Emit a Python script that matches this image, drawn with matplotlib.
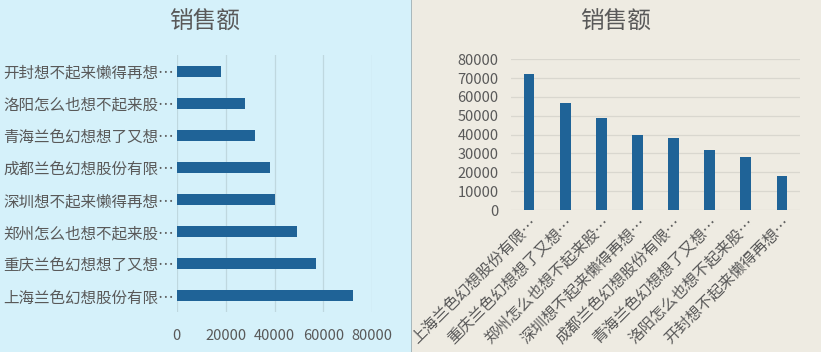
import matplotlib.pyplot as plt
import matplotlib.transforms as mtransforms
from matplotlib.patches import Rectangle

plt.rcParams['font.family'] = ['Noto Sans CJK SC', 'DejaVu Sans']

# 数据：从下到上（左图）/ 从左到右（右图）
labels = ['上海兰色幻想股份有限…', '重庆兰色幻想想了又想…', '郑州怎么也想不起来股…',
          '深圳想不起来懒得再想…', '成都兰色幻想股份有限…', '青海兰色幻想想了又想…',
          '洛阳怎么也想不起来股…', '开封想不起来懒得再想…']
sales = [72000, 57000, 49000, 40000, 38000, 32000, 28000, 18000]
x_ticks = [0, 20000, 40000, 60000, 80000]
y_ticks = list(range(0, 80001, 10000))

BAR = '#1f6397'
TXT = '#595959'
W, H = 821, 352

fig = plt.figure(figsize=(W / 100, H / 100), dpi=100)

# 背景
fig.patches.append(Rectangle((0, 0), 411 / W, 1, transform=fig.transFigure,
                             facecolor='#d5f1fa', edgecolor='none', zorder=-2))
fig.patches.append(Rectangle((412 / W, 0), 1 - 412 / W, 1, transform=fig.transFigure,
                             facecolor='#eeebe2', edgecolor='none', zorder=-2))
fig.patches.append(Rectangle((410.5 / W, 0), 1.5 / W, 1, transform=fig.transFigure,
                             facecolor='#a9b8bc', edgecolor='none', zorder=-1))

# ── 左：条形图 ──
ax1 = fig.add_axes([176.7 / W, 40 / H, 195.6 / W, 257 / H])
ax1.set_facecolor('none')
ypos = range(len(labels))
ax1.barh(ypos, sales, height=0.34, color=BAR, zorder=3)
ax1.set_xlim(0, 80000)
ax1.set_ylim(-0.5, len(labels) - 0.5)
ax1.set_yticks(list(ypos))
ax1.set_yticklabels(labels, fontsize=11.2, color=TXT)
ax1.set_xticks(x_ticks)
ax1.set_xticklabels([str(v) for v in x_ticks], fontsize=10.5, color=TXT)
ax1.tick_params(axis='y', length=0, pad=2)
ax1.tick_params(axis='x', length=0, pad=12)
ax1.grid(axis='x', color='#bfd8df', lw=0.9, zorder=0)
for s in ax1.spines.values():
    s.set_visible(False)
fig.text(205 / W, 1 - 22 / H, '销售额', ha='center', va='center',
         fontsize=17, color=TXT)

# ── 右：柱形图 ──
ax2 = fig.add_axes([511 / W, (H - 210) / H, 289 / W, 150.7 / H])
ax2.set_facecolor('none')
xpos = range(len(labels))
ax2.bar(xpos, sales, width=0.3, color=BAR, zorder=3)
ax2.set_xlim(-0.5, len(labels) - 0.5)
ax2.set_ylim(0, 80000)
ax2.set_yticks(y_ticks)
ax2.set_yticklabels([str(v) for v in y_ticks], fontsize=10.5, color=TXT)
ax2.set_xticks(list(xpos))
ax2.set_xticklabels(labels, fontsize=11.2, color=TXT, rotation=45,
                    ha='right', va='top', rotation_mode='anchor')
off = mtransforms.ScaledTranslation(10 / 72, 2 / 72, fig.dpi_scale_trans)
for t in ax2.get_xticklabels():
    t.set_transform(t.get_transform() + off)
ax2.tick_params(axis='y', length=0, pad=9)
ax2.tick_params(axis='x', length=0, pad=3)
ax2.grid(axis='y', color='#d9d7cf', lw=0.9, zorder=0)
for s in ax2.spines.values():
    s.set_visible(False)
fig.text(616 / W, 1 - 22 / H, '销售额', ha='center', va='center',
         fontsize=17, color=TXT)

fig.savefig('out.png', dpi=100)
